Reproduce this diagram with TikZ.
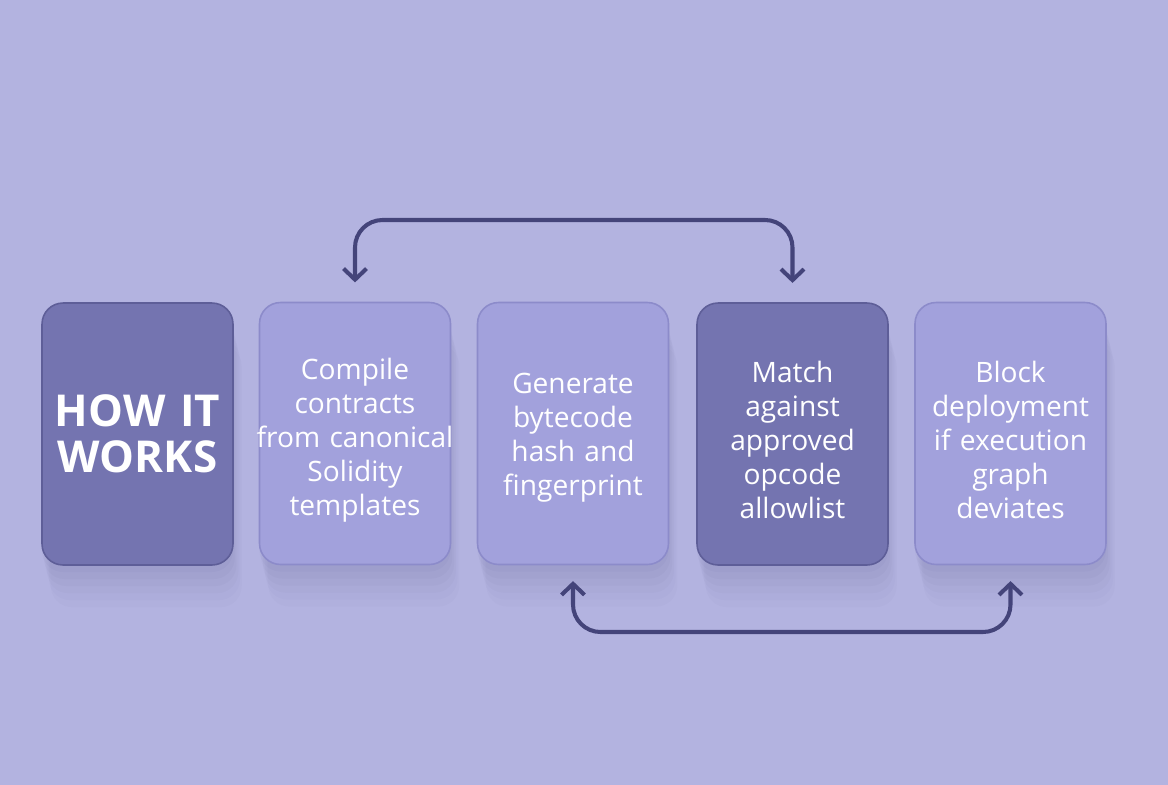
\documentclass[tikz,border=0pt]{standalone}
\usepackage{fontspec}
\setmainfont{Open Sans}
\usetikzlibrary{arrows.meta}
\definecolor{bgc}{RGB}{179,179,224}
\definecolor{lightbox}{RGB}{162,161,220}
\definecolor{darkbox}{RGB}{116,116,176}
\definecolor{lightedge}{RGB}{140,139,202}
\definecolor{darkedge}{RGB}{94,94,152}
\definecolor{conncol}{RGB}{68,68,122}
\definecolor{shadowcol}{RGB}{70,70,120}
\tikzset{
  card/.style={rounded corners=0.42cm, minimum width=3.82cm, minimum height=5.24cm,
    inner sep=0pt, line width=0.9pt,
    preaction={draw=none, fill=shadowcol, fill opacity=0.035, transform canvas={yshift=-4pt}},
    preaction={draw=none, fill=shadowcol, fill opacity=0.035, transform canvas={yshift=-8pt, xshift=1pt}},
    preaction={draw=none, fill=shadowcol, fill opacity=0.03, transform canvas={yshift=-12pt, xshift=2pt}},
    preaction={draw=none, fill=shadowcol, fill opacity=0.03, transform canvas={yshift=-16pt, xshift=3pt}},
    preaction={draw=none, fill=shadowcol, fill opacity=0.025, transform canvas={yshift=-20pt, xshift=4pt}},
    preaction={draw=none, fill=shadowcol, fill opacity=0.02, transform canvas={yshift=-24pt, xshift=5pt}}},
  lightcard/.style={card, fill=lightbox, draw=lightedge},
  darkcard/.style={card, fill=darkbox, draw=darkedge},
  cardtext/.style={text width=4.5cm, align=center, text=white, inner sep=0pt,
    font=\fontsize{16}{19.4}\selectfont},
  conn/.style={draw=conncol, line width=2.3pt, rounded corners=0.55cm,
    arrows={Straight Barb[length=0.22cm,width=0.46cm,line width=2.3pt]-Straight Barb[length=0.22cm,width=0.46cm,line width=2.3pt]}}
}
\begin{document}
\begin{tikzpicture}[x=0.02cm,y=-0.02cm]
\useasboundingbox (0,0) rectangle (1168,784);
\fill[bgc] (-10,-10) rectangle (1178,794);
\node[darkcard] (b1) at (137.5,434) {};
\node[lightcard] (b2) at (355,433.5) {};
\node[lightcard] (b3) at (573,433.5) {};
\node[darkcard] (b4) at (792.5,434) {};
\node[lightcard] (b5) at (1010.5,433.5) {};
\node[cardtext, font=\fontsize{25}{26}\selectfont\bfseries] (t1) at (137.5,434) {HOW IT\\WORKS};
\node[cardtext] (t2) at (355,440) {Compile\\contracts\\from canonical\\Solidity\\templates};
\node[cardtext] (t3) at (573,438) {Generate\\bytecode\\hash and\\fingerprint};
\node[cardtext] (t4) at (792.5,440) {Match\\against\\approved\\opcode\\allowlist};
\node[cardtext] (t5) at (1010.5,440) {Block\\deployment\\if execution\\graph\\deviates};
\coordinate (top) at (571,220);
\coordinate (bot) at (790,632);
\draw[conn, shorten <=11pt, shorten >=11pt] (b2.north) -- (b2.north |- top) -- (b4.north |- top) -- (b4.north);
\draw[conn, shorten <=9pt, shorten >=9pt] (b3.south) -- (b3.south |- bot) -- (b5.south |- bot) -- (b5.south);
\end{tikzpicture}
\end{document}
